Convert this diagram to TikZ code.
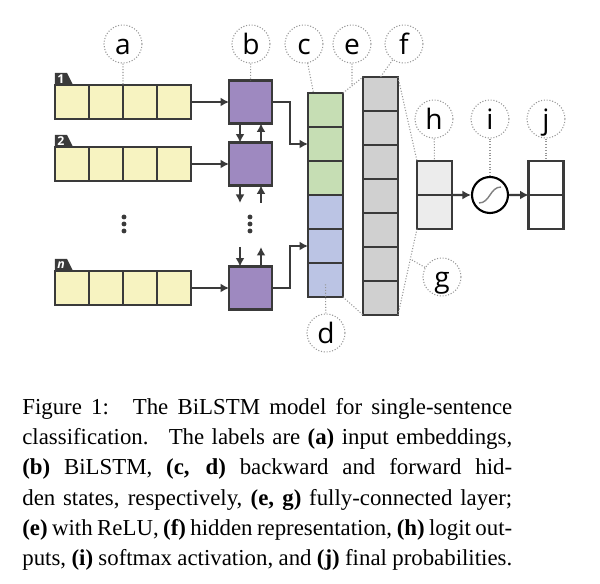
\documentclass[tikz,border=0pt]{standalone}
\usepackage{fontspec}
\setmainfont{Liberation Serif}
\newfontfamily\labelfont{Open Sans}
\usetikzlibrary{arrows.meta,calc}

\definecolor{edge}{RGB}{58,58,58}
\definecolor{dotgray}{RGB}{150,150,150}
\definecolor{emb}{RGB}{247,243,193}
\definecolor{lstm}{RGB}{158,137,192}
\definecolor{hidb}{RGB}{198,222,180}
\definecolor{hidf}{RGB}{187,196,228}
\definecolor{fcgray}{RGB}{208,208,208}
\definecolor{logit}{RGB}{236,236,236}

\begin{document}
\begin{tikzpicture}[x=0.02cm, y=-0.02cm,
    cell/.style={rectangle, draw=edge, line width=1.6pt, outer sep=0pt, inner sep=0pt, minimum width=0.7cm, minimum height=0.68cm},
    tag/.style={circle, draw=dotgray, densely dotted, line width=0.6pt, minimum size=0.76cm, inner sep=0pt, text height=11.4pt, text depth=0pt, font=\labelfont\fontsize{16}{16}\selectfont},
    tabnum/.style={inner sep=0pt, text=white, font=\labelfont\bfseries\fontsize{7}{7}\selectfont},
    link/.style={draw=dotgray, densely dotted, line width=0.6pt},
    flow/.style={draw=edge, line width=1.2pt, -{Latex[length=1.7mm,width=1.8mm]}},
    caption/.style={text width=9.8cm, align=justify, inner sep=0pt, font=\fontsize{13}{17.2}\selectfont}]

    \useasboundingbox (0,0) rectangle (600,584);

    % input embeddings and BiLSTM cells
    \foreach \r/\y/\t in {1/102/1, 2/164/2, n/288/{\itshape n}} {
        \fill[edge] (55,\y-17) -- ++(0,-12) -- ++(12,0) -- ++(6,12) -- cycle;
        \node[tabnum] (tab\r) at (61,\y-23) {\t};
        \foreach \k in {1,...,4}
            \node[cell, fill=emb, minimum width=0.68cm] (r\r\k) at (38+34*\k,\y) {};
        \node[cell, fill=lstm, minimum size=0.86cm] (l\r) at (250.5,\y) {};
        \draw[flow] (r\r4) -- (l\r);
    }

    % skipped steps
    \foreach \x in {124,250}
        \foreach \y in {217,224,231}
            \fill[edge] (\x,\y) circle (1.4pt);

    % recurrence between steps
    \coordinate (gapTop) at (250.5,203);
    \coordinate (gapBot) at (250.5,247);
    \draw[flow] ($(l1.south)+(-10.5,0)$) -- ($(l2.north)+(-10.5,0)$);
    \draw[flow] ($(l2.north)+(10.5,0)$) -- ($(l1.south)+(10.5,0)$);
    \draw[flow] ($(l2.south)+(-10.5,0)$) -- ($(gapTop)+(-10.5,0)$);
    \draw[flow] ($(gapTop)+(10.5,0)$) -- ($(l2.south)+(10.5,0)$);
    \draw[flow] ($(gapBot)+(-10.5,0)$) -- ($(ln.north)+(-10.5,0)$);
    \draw[flow] ($(ln.north)+(10.5,0)$) -- ($(gapBot)+(10.5,0)$);

    % hidden states
    \foreach \k/\col in {1/hidb, 2/hidb, 3/hidb, 4/hidf, 5/hidf, 6/hidf}
        \node[cell, fill=\col] (hid\k) at (325.5,76+34*\k) {};
    \draw[flow] (l1.east) -- ++(18,0) |- (hid2.west);
    \draw[flow] (ln.east) -- ++(18,0) |- (hid5.west);

    % hidden representation
    \foreach \k in {1,...,7}
        \node[cell, fill=fcgray] (fc\k) at (380.5,60+34*\k) {};

    % logits, softmax, probabilities
    \node[cell, fill=logit] (out1) at (434.5,178) {};
    \node[cell, fill=logit] (out2) at (434.5,212) {};
    \node[circle, draw=black, line width=1.2pt, minimum size=0.72cm] (sig) at (490,195) {};
    \draw[gray, line width=0.8pt] ($(sig.center)+(-11,8)$) .. controls ($(sig.center)+(0,8)$) and ($(sig.center)+(0,-8)$) .. ($(sig.center)+(11,-8)$);
    \node[cell, fill=white] (prob1) at (546,178) {};
    \node[cell, fill=white] (prob2) at (546,212) {};
    \draw[flow] (out1.south east) -- (sig);
    \draw[flow] (sig) -- (prob1.south west);

    % fully-connected layers
    \draw[link] (hid1.north east) -- (fc1.north west);
    \draw[link] (hid6.south east) -- (fc7.south west);
    \draw[link] (fc1.north east) -- (out1.north west);
    \draw[link] (fc7.south east) -- (out2.south west);

    % labels
    \node[tag] (tagA) at (123,44) {a};
    \node[tag] (tagB) at (251,44) {b};
    \node[tag] (tagC) at (304,44) {c};
    \node[tag] (tagE) at (352,44) {e};
    \node[tag] (tagF) at (404,44) {f};
    \node[tag] (tagH) at (434,119) {h};
    \node[tag] (tagI) at (490,119) {i};
    \node[tag] (tagJ) at (546,119) {j};
    \node[tag] (tagG) at (442,277) {g};
    \node[tag] (tagD) at (326,333) {d};

    \coordinate (eFoot) at ($(hid1.north east)!0.45!(fc1.north west)$);
    \coordinate (gFoot) at ($(fc7.south east)!0.65!(out2.south west)$);
    \draw[link] (tagA) -- (r13.north west);
    \draw[link] (tagB) -- (l1.north);
    \draw[link] (tagC) -- ($(hid1.north)+(-12,0)$);
    \draw[link] (tagE) -- (eFoot);
    \draw[link] (tagF) -- (fc1.north);
    \draw[link] (tagH) -- (out1.north);
    \draw[link] (tagI) -- (sig);
    \draw[link] (tagJ) -- (prob1.north);
    \draw[link] (tagG) -- (gFoot);
    \draw[link] (tagD) -- ($(hid6.center)+(0,4)$);

    % caption
    \node[caption, anchor=north west] (cap) at (22,398) {Figure 1: \ The BiLSTM model for single-sentence\linebreak
        classification. \ The labels are \textbf{(a)} input embeddings,\linebreak
        \textbf{(b)} BiLSTM, \textbf{(c, d)} backward and forward hid-\linebreak
        den states, respectively, \textbf{(e, g)} fully-connected layer;\linebreak
        \textbf{(e)} with ReLU, \textbf{(f)} hidden representation, \textbf{(h)} logit out-\linebreak
        puts, \textbf{(i)} softmax activation, and \textbf{(j)} final probabilities.};

\end{tikzpicture}
\end{document}
